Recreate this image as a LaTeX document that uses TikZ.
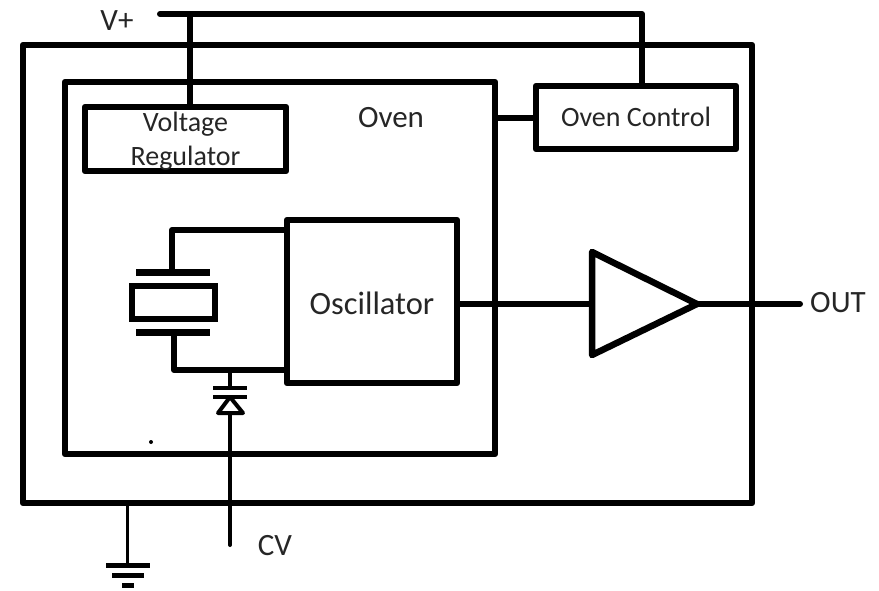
\documentclass[tikz,border=0pt]{standalone}
\usepackage{fontspec}
\setmainfont{Carlito}
\usetikzlibrary{calc}
\tikzset{
  box/.style={draw=black,line width=6.5pt,rectangle,inner sep=0pt,line join=round},
  wire/.style={draw=black,line width=6pt,line join=round},
  thinwire/.style={draw=black,line width=4pt,line join=miter},
  label/.style={font=\fontsize{31}{31}\selectfont,text=black!85,inner sep=0pt},
  small/.style={font=\fontsize{28}{28}\selectfont,text=black!85,inner sep=0pt},
  plate/.style={draw=black,line width=7pt},
  gnd/.style={draw=black,line width=5pt}
}
\begin{document}
\begin{tikzpicture}[x=1pt,y=-1pt]
\useasboundingbox (0,0) rectangle (879,590);
% enclosures
\node[box,minimum width=729pt,minimum height=458pt] (outer) at (387.5,274) {};
\node[box,minimum width=430pt,minimum height=372pt] (oven) at (280,268) {};
\node[box,minimum width=201pt,minimum height=64pt] (reg) at (185.5,139) {};
\node[box,minimum width=200pt,minimum height=63pt] (ctl) at (636,117.5) {};
\node[box,minimum width=170pt,minimum height=163pt] (osc) at (372,301.5) {};
\node[draw=black,line width=6pt,rectangle,inner sep=0pt,minimum width=83pt,minimum height=33pt] (xtal) at (173,302.5) {};
% texts
\node[small] (vr1) at (185.5,124) {Voltage};
\node[small] (vr2) at (185.5,158) {Regulator};
\node[small] (ctltx) at (636,117) {Oven Control};
\node[label] (oventx) at (391,118) {Oven};
\node[font=\fontsize{32.5}{32.5}\selectfont,text=black!85,inner sep=0pt] (osctx) at (372,303) {Oscillator};
\node[label] (vp) at (117,21) {V+};
\node[label] (cv) at (275,546) {CV};
\node[label] (outtx) at (838,303) {OUT};
% coordinates
\coordinate (vstart) at (160,14);
\coordinate (vtap) at (190,14);
\coordinate (vcorner) at (642,14);
\coordinate (xt) at (172,272);
\coordinate (xb) at (174,332);
\coordinate (xbc) at (174,370);
\coordinate (xtc) at (172,230);
\coordinate (dtap) at (230,370);
\coordinate (dk) at (230,397);
\coordinate (dbase) at (230,413);
\coordinate (cvend) at (230,545);
\coordinate (gtop) at (127,503);
\coordinate (gbot) at (127,565);
\coordinate (ampl) at (592,304);
\coordinate (ampo) at (697,304);
\coordinate (outend) at (800,304);
% V+ rail
\draw[wire,line cap=round] (vstart) -- (vcorner) -- (vcorner |- ctl.north);
\draw[wire] (vtap) -- (vtap |- reg.north);
% link
\draw[wire] (oven.east |- ctl.west) -- (ctl.west);
% crystal
\draw[plate] (136,272) -- (210,272);
\draw[plate] (136,332) -- (210,332);
\draw[wire] (osc.west |- xtc) -- (xtc) -- (xt);
\draw[wire] (xb) -- (xbc) -- (osc.west |- xbc);
% varactor
\draw[thinwire] (dtap) -- (230,388);
\draw[thinwire] (213,388) -- (247,388);
\draw[thinwire] (213,397) -- (247,397);
\draw[thinwire,line join=round] (dk) -- (243,413) -- (218,413) -- cycle;
\draw[thinwire,line cap=round] (dbase) -- (cvend);
% amplifier
\draw[draw=black,line width=6.5pt,line join=round] (592,252) -- (697,304) -- (592,355) -- cycle;
\draw[wire] (osc.east |- ampl) -- (ampl);
\draw[wire,line cap=round] (ampo) -- (outend);
% ground
\draw[thinwire,line width=3pt] (gtop) -- (gbot);
\draw[gnd] (106,565) -- (150,565);
\draw[gnd] (112,575) -- (144,575);
\draw[gnd] (122,585) -- (134,585);
% speck
\fill[black] (151,442) circle (2pt);
\end{tikzpicture}
\end{document}
